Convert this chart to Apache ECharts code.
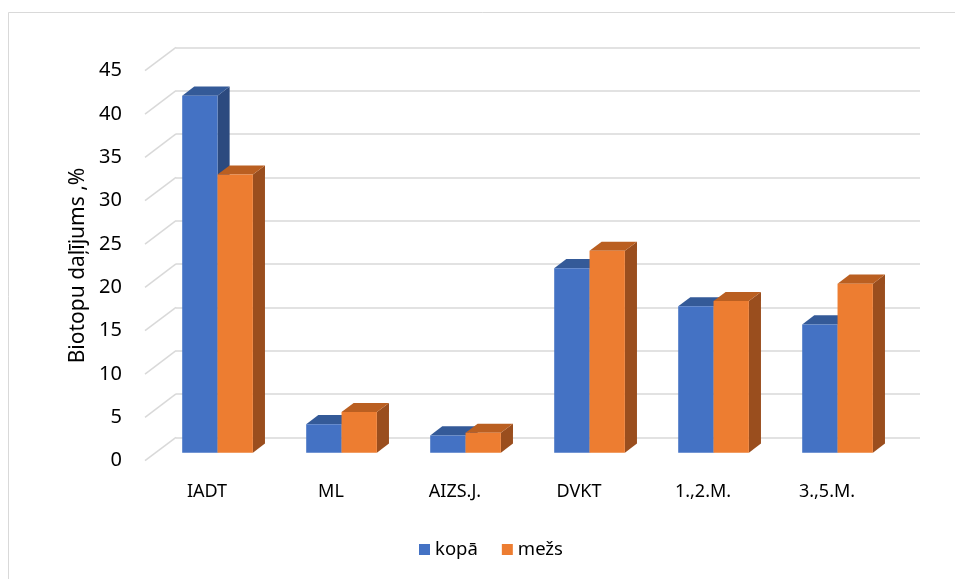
<!DOCTYPE html>
<html>
<head>
<meta charset="utf-8">
<script src="https://cdn.jsdelivr.net/npm/echarts@6/dist/echarts.min.js"></script>
<style>
html,body{margin:0;padding:0;background:#fff;}
#chart{width:955px;height:579px;}
</style>
</head>
<body>
<div id="chart"></div>
<script>
const categories = ['IADT', 'ML', 'AIZS.J.', 'DVKT', '1.,2.M.', '3.,5.M.'];
const kopa = [41.2, 3.3, 2.0, 21.3, 16.9, 14.8];
const mezs = [32.1, 4.7, 2.3, 23.3, 17.5, 19.5];
const yTicks = [0, 5, 10, 15, 20, 25, 30, 35, 40, 45];
const seriesNames = ['kopā', 'mežs'];

const FONT = 'Noto Sans';
// 3D projection constants (floor depth from front to back wall)
const DEPTH_X = 31, DEPTH_Y = -23.4;
const BAR_START = 0.34, BAR_DEPTH = 0.39, BAR_FRAC = 0.285;
const faceColors = [
  {front: '#4472C4', top: '#345A98', side: '#2C4A7F'},
  {front: '#ED7D31', top: '#BA5F21', side: '#9A4E1E'}
];

function barRender(sIdx) {
  return function (params, api) {
    const cat = api.value(0), v = api.value(1);
    const top = api.coord([cat, v]);
    const base = api.coord([cat, 0]);
    const band = api.size([1, 0])[0];
    const bw = band * BAR_FRAC;
    const ox = DEPTH_X * BAR_START, oy = DEPTH_Y * BAR_START;
    const dx = DEPTH_X * BAR_DEPTH, dy = DEPTH_Y * BAR_DEPTH;
    const x0 = top[0] + ox + (sIdx === 0 ? -bw : 0);
    const x1 = x0 + bw;
    const yT = top[1] + oy, yB = base[1] + oy;
    const c = faceColors[sIdx];
    return {
      type: 'group',
      children: [
        {type: 'polygon', shape: {points: [[x1, yT], [x1 + dx, yT + dy], [x1 + dx, yB + dy], [x1, yB]]}, style: {fill: c.side}},
        {type: 'polygon', shape: {points: [[x0, yT], [x1, yT], [x1 + dx, yT + dy], [x0 + dx, yT + dy]]}, style: {fill: c.top}},
        {type: 'rect', shape: {x: x0, y: yT, width: bw, height: yB - yT}, style: {fill: c.front}}
      ]
    };
  };
}

const chart = echarts.init(document.getElementById('chart'));
const option = {
  backgroundColor: '#fff',
  animation: false,
  textStyle: {fontFamily: FONT},
  graphic: [
    {type: 'rect', shape: {x: 8.5, y: 12.5, width: 1000, height: 700}, style: {fill: 'none', stroke: '#d9d9d9', lineWidth: 1}, silent: true, z: -10},
    {type: 'text', x: 78, y: 265.5, rotation: Math.PI / 2, style: {text: 'Biotopu daļījums ,%', font: '21px "Noto Sans"', fill: '#000', align: 'center', verticalAlign: 'middle'}}
  ],
  legend: {
    data: seriesNames,
    bottom: 15,
    left: 414,
    icon: 'rect',
    itemWidth: 11,
    itemHeight: 11,
    itemGap: 24,
    textStyle: {fontFamily: FONT, fontSize: 18.5, color: '#000'}
  },
  grid: [
    {left: 145, top: 70.7, width: 744, height: 390},
    {left: 176, top: 47.3, width: 744, height: 390}
  ],
  xAxis: [
    {type: 'category', gridIndex: 0, data: categories, axisLine: {show: false}, axisTick: {show: false},
     axisLabel: {fontFamily: FONT, fontSize: 18, color: '#000', margin: 22}},
    {type: 'category', gridIndex: 1, data: categories, show: false}
  ],
  yAxis: [
    {type: 'value', gridIndex: 0, min: 0, max: 45, interval: 5, axisLine: {show: false}, axisTick: {show: false},
     splitLine: {show: false}, axisLabel: {fontFamily: FONT, fontSize: 20, color: '#000', margin: 23}},
    {type: 'value', gridIndex: 1, min: 0, max: 45, interval: 5, axisLine: {show: false}, axisTick: {show: false},
     axisLabel: {show: false}, splitLine: {show: true, lineStyle: {color: '#d9d9d9', width: 1.5}}}
  ],
  series: [
    {
      type: 'custom', name: 'walls', xAxisIndex: 0, yAxisIndex: 0, z: 1, silent: true,
      data: yTicks.map(v => [0, v]),
      renderItem: function (params, api) {
        const p = api.coord([0, api.value(1)]);
        const x = params.coordSys.x;
        return {type: 'line', shape: {x1: x, y1: p[1], x2: x + DEPTH_X, y2: p[1] + DEPTH_Y},
                style: {stroke: '#d9d9d9', lineWidth: 1.5}};
      }
    },
    {
      type: 'custom', name: seriesNames[0], xAxisIndex: 0, yAxisIndex: 0, z: 3,
      itemStyle: {color: faceColors[0].front},
      data: kopa.map((v, i) => [i, v]),
      renderItem: barRender(0)
    },
    {
      type: 'custom', name: seriesNames[1], xAxisIndex: 0, yAxisIndex: 0, z: 4,
      itemStyle: {color: faceColors[1].front},
      data: mezs.map((v, i) => [i, v]),
      renderItem: barRender(1)
    }
  ]
};
chart.setOption(option);
</script>
</body>
</html>
